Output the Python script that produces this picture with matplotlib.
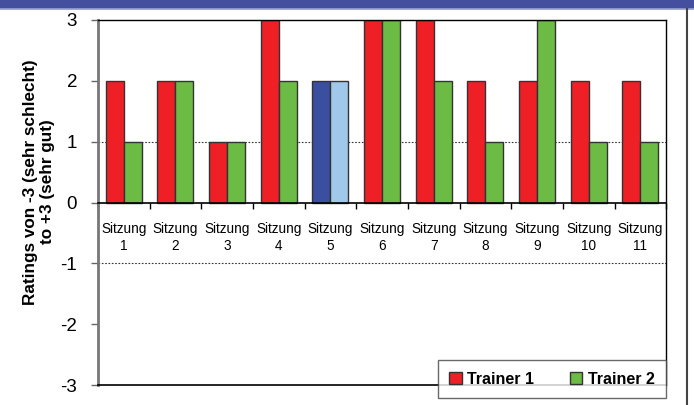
import matplotlib.pyplot as plt
import numpy as np
from matplotlib.patches import Rectangle
from matplotlib.lines import Line2D

plt.rcParams['font.family'] = ['Liberation Sans', 'DejaVu Sans']

sessions = [f"Sitzung\n{i}" for i in range(1, 12)]
trainer1 = [2, 2, 1, 3, 2, 3, 3, 2, 2, 2, 2]
trainer2 = [1, 2, 1, 2, 2, 3, 2, 1, 3, 1, 1]
highlight = 4  # Sitzung 5 drawn in blue
y_ticks = [-3, -2, -1, 0, 1, 2, 3]
grid_at = [1, -1]

red, green = '#EE2026', '#6CBB45'
dark_blue, light_blue = '#3A4FA0', '#A0C8EA'

fig = plt.figure(figsize=(6.94, 4.05), dpi=100)
ax = fig.add_axes([0.141, 0.049, 0.819, 0.902])

x = np.arange(len(sessions))
w = 0.35
c1 = [dark_blue if i == highlight else red for i in x]
c2 = [light_blue if i == highlight else green for i in x]

for g in grid_at:
    ax.axhline(g, color='#333333', lw=0.8, ls=(0, (1.5, 1.5)), zorder=1)

ax.bar(x - w / 2, trainer1, w, color=c1, edgecolor='#333333', lw=1.0, zorder=2, label='Trainer 1')
ax.bar(x + w / 2, trainer2, w, color=c2, edgecolor='#333333', lw=1.0, zorder=2, label='Trainer 2')

ax.set_xlim(-0.5, len(sessions) - 0.5)
ax.set_ylim(-3, 3)
ax.set_yticks(y_ticks)
ax.set_yticklabels([str(t) for t in y_ticks], fontsize=13.5)
ax.tick_params(axis='y', length=5, width=1, color='#666666', pad=10)

# x axis crosses at 0, ticks between categories
ax.spines['bottom'].set_position(('data', 0))
ax.spines['bottom'].set_linewidth(1.2)
ax.set_xticks(np.arange(len(sessions) + 1) - 0.5)
ax.set_xticklabels([])
ax.tick_params(axis='x', which='major', length=4, width=1, direction='out')
ax.set_xticks(x, minor=True)
ax.set_xticklabels(sessions, minor=True, fontsize=9.8, linespacing=1.25)
ax.tick_params(axis='x', which='minor', length=0, pad=14)

ax.spines['left'].set_color('#777777')
ax.spines['left'].set_linewidth(2)
for s in ['top', 'right']:
    ax.spines[s].set_linewidth(1)
ax.plot([0, 1], [0, 0], transform=ax.transAxes, color='black', lw=1.2, clip_on=False, zorder=3)

fig.text(39 / 694, 1 - 182 / 405, 'Ratings von -3 (sehr schlecht)\nto +3 (sehr gut)',
         rotation=90, ha='center', va='center', fontsize=12.3, fontweight='bold',
         linespacing=1.15, multialignment='center')

leg = fig.legend(loc='center', bbox_to_anchor=(552 / 694, 1 - 379 / 405),
                 ncol=2, frameon=True, fancybox=False,
                 prop={'weight': 'bold', 'size': 11.5}, handlelength=0.8, handleheight=0.8,
                 handletextpad=0.35, borderpad=0.7, columnspacing=2.2)
leg.get_frame().set_edgecolor('#444444')
leg.get_frame().set_linewidth(1)
for h, c in zip(leg.legend_handles, [red, green]):
    h.set_facecolor(c)

# header band and right border
fig.patches.append(Rectangle((0, 397 / 405), 1, 8 / 405, transform=fig.transFigure,
                             color='#454FA0', zorder=0))
fig.lines.append(Line2D([0, 1], [396.5 / 405] * 2, transform=fig.transFigure,
                        color='#9AA0D0', lw=1.2))
fig.lines.append(Line2D([687 / 694] * 2, [0, 396 / 405], transform=fig.transFigure,
                        color='#444444', lw=1.5))

fig.savefig('out.png', dpi=100)
